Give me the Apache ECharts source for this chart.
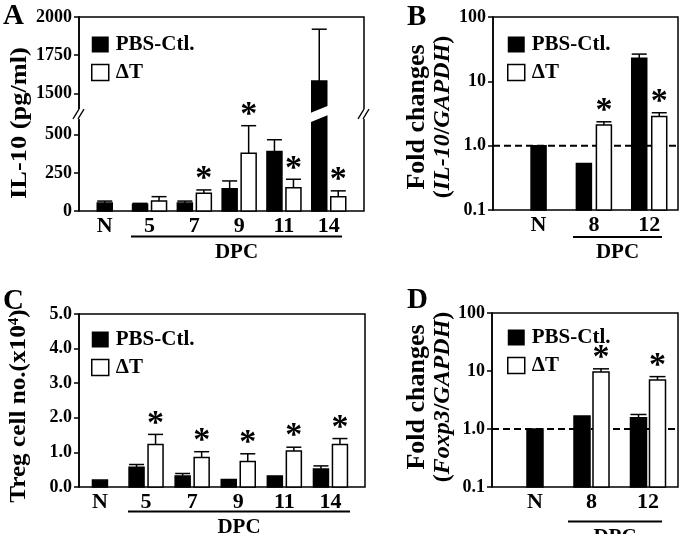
<!DOCTYPE html>
<html><head><meta charset="utf-8">
<script src="https://cdn.jsdelivr.net/npm/echarts@6/dist/echarts.min.js"></script>
<style>html,body{margin:0;padding:0;background:#fff}#c{width:680px;height:534px}</style>
</head><body><div id="c"></div>
<script>
// ---------- data ----------
const seriesNames = ['PBS-Ctl.', 'ΔT'];
// Panel A: IL-10 (pg/ml)
const catA = ['N', '5', '7', '9', '11', '14'];
const pbsA = [52, 45, 52, 145, 390, 1580];
const pbsAErr = [65, 50, 65, 197, 467, 1920];
const dtA = [null, 66, 116, 379, 153, 94];
const dtAErr = [null, 94, 138, 559, 208, 132];
const dtASig = [0, 0, 1, 1, 1, 1];
const ticksA = [0, 250, 500, 1500, 1750, 2000];
const breakA = [600, 1400];
// Panel B: Fold changes IL-10/GAPDH
const catB = ['N', '8', '12'];
const pbsB = [1.0, 0.53, 22.9];
const pbsBErr = [null, null, 26.5];
const dtB = [null, 2.1, 2.85];
const dtBErr = [null, 2.35, 3.25];
const dtBSig = [0, 1, 1];
// Panel C: Treg cell no.
const catC = ['N', '5', '7', '9', '11', '14'];
const pbsC = [0.2, 0.57, 0.32, 0.22, 0.32, 0.52];
const pbsCErr = [null, 0.65, 0.39, null, null, 0.61];
const dtC = [null, 1.23, 0.85, 0.74, 1.04, 1.23];
const dtCErr = [null, 1.52, 1.02, 0.96, 1.15, 1.40];
const dtCSig = [0, 1, 1, 1, 1, 1];
// Panel D: Fold changes Foxp3/GAPDH
const catD = ['N', '8', '12'];
const pbsD = [1.0, 1.67, 1.57];
const pbsDErr = [null, null, 1.78];
const dtD = [null, 9.6, 7.0];
const dtDErr = [null, 10.9, 8.0];
const dtDSig = [0, 1, 1];
const refLine = 1.0;

// ---------- helpers ----------
const F = 'Liberation Serif';
const K = '#000';
const chart = echarts.init(document.getElementById('c'));

function build(vals, errs, sigs, partner) {
  const out = [];
  vals.forEach((v, i) => {
    if (v == null) return;
    out.push([i, v, errs[i] == null ? -1 : errs[i], sigs ? sigs[i] : 0, partner[i] == null ? 0 : 1]);
  });
  return out;
}

function render(kind, o) {
  return function (params, api) {
    const i = api.value(0), v = api.value(1), err = api.value(2), sig = api.value(3), paired = api.value(4);
    const top = api.coord([i, v]);
    const base = api.coord([i, o.base]);
    let cx = top[0];
    if (paired) cx += (kind === 0 ? -1 : 1) * (o.bw + o.gap) / 2;
    const x0 = cx - o.bw / 2, x1 = cx + o.bw / 2;
    const fill = kind === 0 ? K : '#fff';
    const st = { fill: fill, stroke: K, lineWidth: 1.5 };
    const ch = [];
    if (o.brk && v > o.brk[1]) {
      const yl = api.coord([i, o.brk[0]])[1];
      const yh = api.coord([i, o.brk[1]])[1];
      ch.push({ type: 'polygon', shape: { points: [[x0, base[1]], [x1, base[1]], [x1, yl - 3], [x0, yl + 3]] }, style: st });
      ch.push({ type: 'polygon', shape: { points: [[x0, yh + 3], [x1, yh - 3], [x1, top[1]], [x0, top[1]]] }, style: st });
    } else {
      ch.push({ type: 'rect', shape: { x: x0, y: top[1], width: o.bw, height: base[1] - top[1] }, style: st });
    }
    let capY = top[1];
    if (err > 0) {
      capY = api.coord([i, err])[1];
      ch.push({ type: 'line', shape: { x1: cx, y1: top[1], x2: cx, y2: capY }, style: { stroke: K, lineWidth: 1.5 } });
      ch.push({ type: 'line', shape: { x1: x0, y1: capY, x2: x1, y2: capY }, style: { stroke: K, lineWidth: 1.5 } });
    }
    if (sig) {
      ch.push({ type: 'text', x: cx, y: capY - o.starOff, style: { text: '*', fill: K, font: 'bold 34px "' + F + '"', align: 'center', verticalAlign: 'middle' } });
    }
    return { type: 'group', children: ch };
  };
}

function frameGrid(left, top, width, height) {
  return { left, top, width, height, show: true, borderColor: K, borderWidth: 1.5, backgroundColor: 'transparent' };
}
function plotGrid(left, top, width, height) {
  return { left, top, width, height, show: false };
}
const tickLbl = { color: K, fontFamily: F, fontWeight: 'bold', fontSize: 18, margin: 7 };
const catLbl = { color: K, fontFamily: F, fontWeight: 'bold', fontSize: 22, margin: 4 };

function frameX(g) { return { gridIndex: g, type: 'value', min: 0, max: 1, show: false }; }
function plotX(g, cats) {
  return { gridIndex: g, type: 'category', data: cats, axisLine: { show: false }, axisTick: { show: false }, splitLine: { show: false }, axisLabel: catLbl };
}
function yBase(g, extra, visible) {
  const a = Object.assign({
    gridIndex: g, splitLine: { show: false },
    axisLine: { show: visible, onZero: false, lineStyle: { color: K, width: 1.5 } },
    axisTick: { show: visible, inside: false, length: 5, lineStyle: { color: K, width: 1.5 } },
    axisLabel: Object.assign({ show: visible }, tickLbl)
  }, extra);
  return a;
}
const yA = { type: 'value', min: 0, max: 2000, breaks: [{ start: breakA[0], end: breakA[1], gap: '5.6%' }], breakArea: { show: false } };
const yB = { type: 'log', logBase: 10, min: 0.1, max: 100 };
const yC = { type: 'value', min: 0, max: 5, interval: 1 };
const logFmt = v => (v < 0.5 ? '0.1' : (v < 5 ? '1.0' : String(Math.round(v))));

function legend(left, top) {
  return {
    orient: 'vertical', left, top, itemWidth: 17, itemHeight: 16, itemGap: 7, icon: 'rect', selectedMode: false,
    textStyle: { fontFamily: F, fontWeight: 'bold', fontSize: 21, color: K, padding: [0, 0, 0, 2] },
    data: [{ name: seriesNames[0], itemStyle: { color: K } },
           { name: seriesNames[1], itemStyle: { color: '#fff', borderColor: K, borderWidth: 1.5 } }]
  };
}

function barSeries(g, kind, data, o) {
  return {
    type: 'custom', name: seriesNames[kind], xAxisIndex: g, yAxisIndex: g, data: data, z: 3,
    encode: { x: 0, y: 1 }, clip: false, silent: true,
    itemStyle: kind === 0 ? { color: K } : { color: '#fff', borderColor: K, borderWidth: 1.5 },
    renderItem: render(kind, o)
  };
}
function dashLine(g) {
  return { type: 'line', xAxisIndex: g, yAxisIndex: g, data: [[0, refLine], [1, refLine]], symbol: 'none', silent: true, z: 1,
    lineStyle: { color: K, width: 2, type: [7, 4] } };
}

const oA = { base: 0, bw: 15, gap: 4, starOff: 10.5, brk: breakA };
const oB = { base: 0.1, bw: 15, gap: 5, starOff: 10.5 };
const oC = { base: 0, bw: 15, gap: 4, starOff: 10.5 };
const oD = { base: 0.1, bw: 16, gap: 3, starOff: 10.5 };

const nameFont = { fontFamily: F, fontWeight: 'bold', fontSize: 24, fill: K };
function vtext(x, y, style, sx) {
  return { type: 'text', x, y, rotation: Math.PI / 2, scaleX: sx || 1, style: Object.assign({ align: 'center', verticalAlign: 'middle', fill: K }, style) };
}
function letter(x, y, t) {
  return { type: 'text', x, y, style: { text: t, fontFamily: F, fontWeight: 'bold', fontSize: 29, fill: K, align: 'left', verticalAlign: 'top' } };
}
function dpc(x1, x2, y) {
  return [
    { type: 'line', shape: { x1, y1: y, x2, y2: y }, style: { stroke: K, lineWidth: 2 } },
    { type: 'text', x: (x1 + x2) / 2, y: y + 16, style: { text: 'DPC', fontFamily: F, fontWeight: 'bold', fontSize: 21, fill: K, align: 'center', verticalAlign: 'middle' } }
  ];
}
const foldRich = {
  b: { fontFamily: F, fontWeight: 'bold', fontSize: 26, lineHeight: 25 },
  a: { fontFamily: F, fontWeight: 'bold', fontSize: 24, lineHeight: 25 },
  i: { fontFamily: F, fontWeight: 'bold', fontStyle: 'italic', fontSize: 24, lineHeight: 25 }
};

const graphics = [
  letter(3, 2, 'A'), letter(407, 3, 'B'), letter(3, 287, 'C'), letter(407, 286, 'D'),
  vtext(20, 123, Object.assign({ text: 'IL-10 (pg/ml)' }, nameFont), 1.1),
  vtext(19, 406, Object.assign({ text: 'Treg cell no.(x10⁴)' }, nameFont), 1.05),
  vtext(430, 117, { text: '{b|Fold changes}\n{a|(}{i|IL-10}{a|/}{i|GAPDH}{a|)}', rich: foldRich }),
  vtext(430, 397, { text: '{b|Fold changes}\n{a|(}{i|Foxp3}{a|/}{i|GAPDH}{a|)}', rich: foldRich }),
  ...dpc(131, 342, 236.5), ...dpc(573, 662, 237), ...dpc(128, 350, 511.5), ...dpc(568, 662, 521.5)
];

chart.setOption({
  animation: false,
  backgroundColor: '#fff',
  grid: [
    frameGrid(79, 17, 285, 194), plotGrid(82.35, 17, 268.8, 194),
    frameGrid(493, 17, 185, 193), plotGrid(510.9, 17, 166, 193),
    frameGrid(79, 314, 286, 173), plotGrid(76.9, 314, 276.6, 173),
    frameGrid(492, 313, 186, 174), plotGrid(506.75, 313, 169.5, 174)
  ],
  xAxis: [frameX(0), plotX(1, catA), frameX(2), plotX(3, catB), frameX(4), plotX(5, catC), frameX(6), plotX(7, catD)],
  yAxis: [
    yBase(0, Object.assign({}, yA, { axisLabel: Object.assign({ customValues: ticksA, formatter: v => String(v) }, tickLbl), axisTick: { customValues: ticksA, length: 5, lineStyle: { color: K, width: 1.5 } } }), true),
    yBase(1, yA, false),
    yBase(2, Object.assign({}, yB, { axisLabel: Object.assign({ formatter: logFmt }, tickLbl), minorTick: { show: false } }), true),
    yBase(3, yB, false),
    yBase(4, Object.assign({}, yC, { axisLabel: Object.assign({ formatter: v => v.toFixed(1) }, tickLbl) }), true),
    yBase(5, yC, false),
    yBase(6, Object.assign({}, yB, { axisLabel: Object.assign({ formatter: logFmt }, tickLbl), minorTick: { show: false } }), true),
    yBase(7, yB, false)
  ],
  legend: [legend(86, 29), legend(502, 29), legend(86, 324), legend(502, 322)],
  series: [
    barSeries(1, 0, build(pbsA, pbsAErr, null, dtA), oA),
    barSeries(1, 1, build(dtA, dtAErr, dtASig, pbsA), oA),
    dashLine(2),
    barSeries(3, 0, build(pbsB, pbsBErr, null, dtB), oB),
    barSeries(3, 1, build(dtB, dtBErr, dtBSig, pbsB), oB),
    barSeries(5, 0, build(pbsC, pbsCErr, null, dtC), oC),
    barSeries(5, 1, build(dtC, dtCErr, dtCSig, pbsC), oC),
    dashLine(6),
    barSeries(7, 0, build(pbsD, pbsDErr, null, dtD), oD),
    barSeries(7, 1, build(dtD, dtDErr, dtDSig, pbsD), oD)
  ],
  graphic: graphics
});

// axis-break marks on the frame edges, positioned through the axis scale
const yLo = chart.convertToPixel({ yAxisIndex: 0 }, breakA[0]);
const yHi = chart.convertToPixel({ yAxisIndex: 0 }, breakA[1]);
const brkMarks = [];
[79, 364].forEach(x => {
  brkMarks.push({ type: 'rect', shape: { x: x - 3, y: yHi + 0.5, width: 6, height: yLo - yHi - 1 }, style: { fill: '#fff' }, z: 50 });
  [-3, 2].forEach(d => {
    brkMarks.push({ type: 'line', shape: { x1: x + d - 3, y1: yLo - 0.5, x2: x + d + 3, y2: yHi + 0.5 }, style: { stroke: K, lineWidth: 1.3 }, z: 51 });
  });
});
chart.setOption({ graphic: graphics.concat(brkMarks) });
</script></body></html>
